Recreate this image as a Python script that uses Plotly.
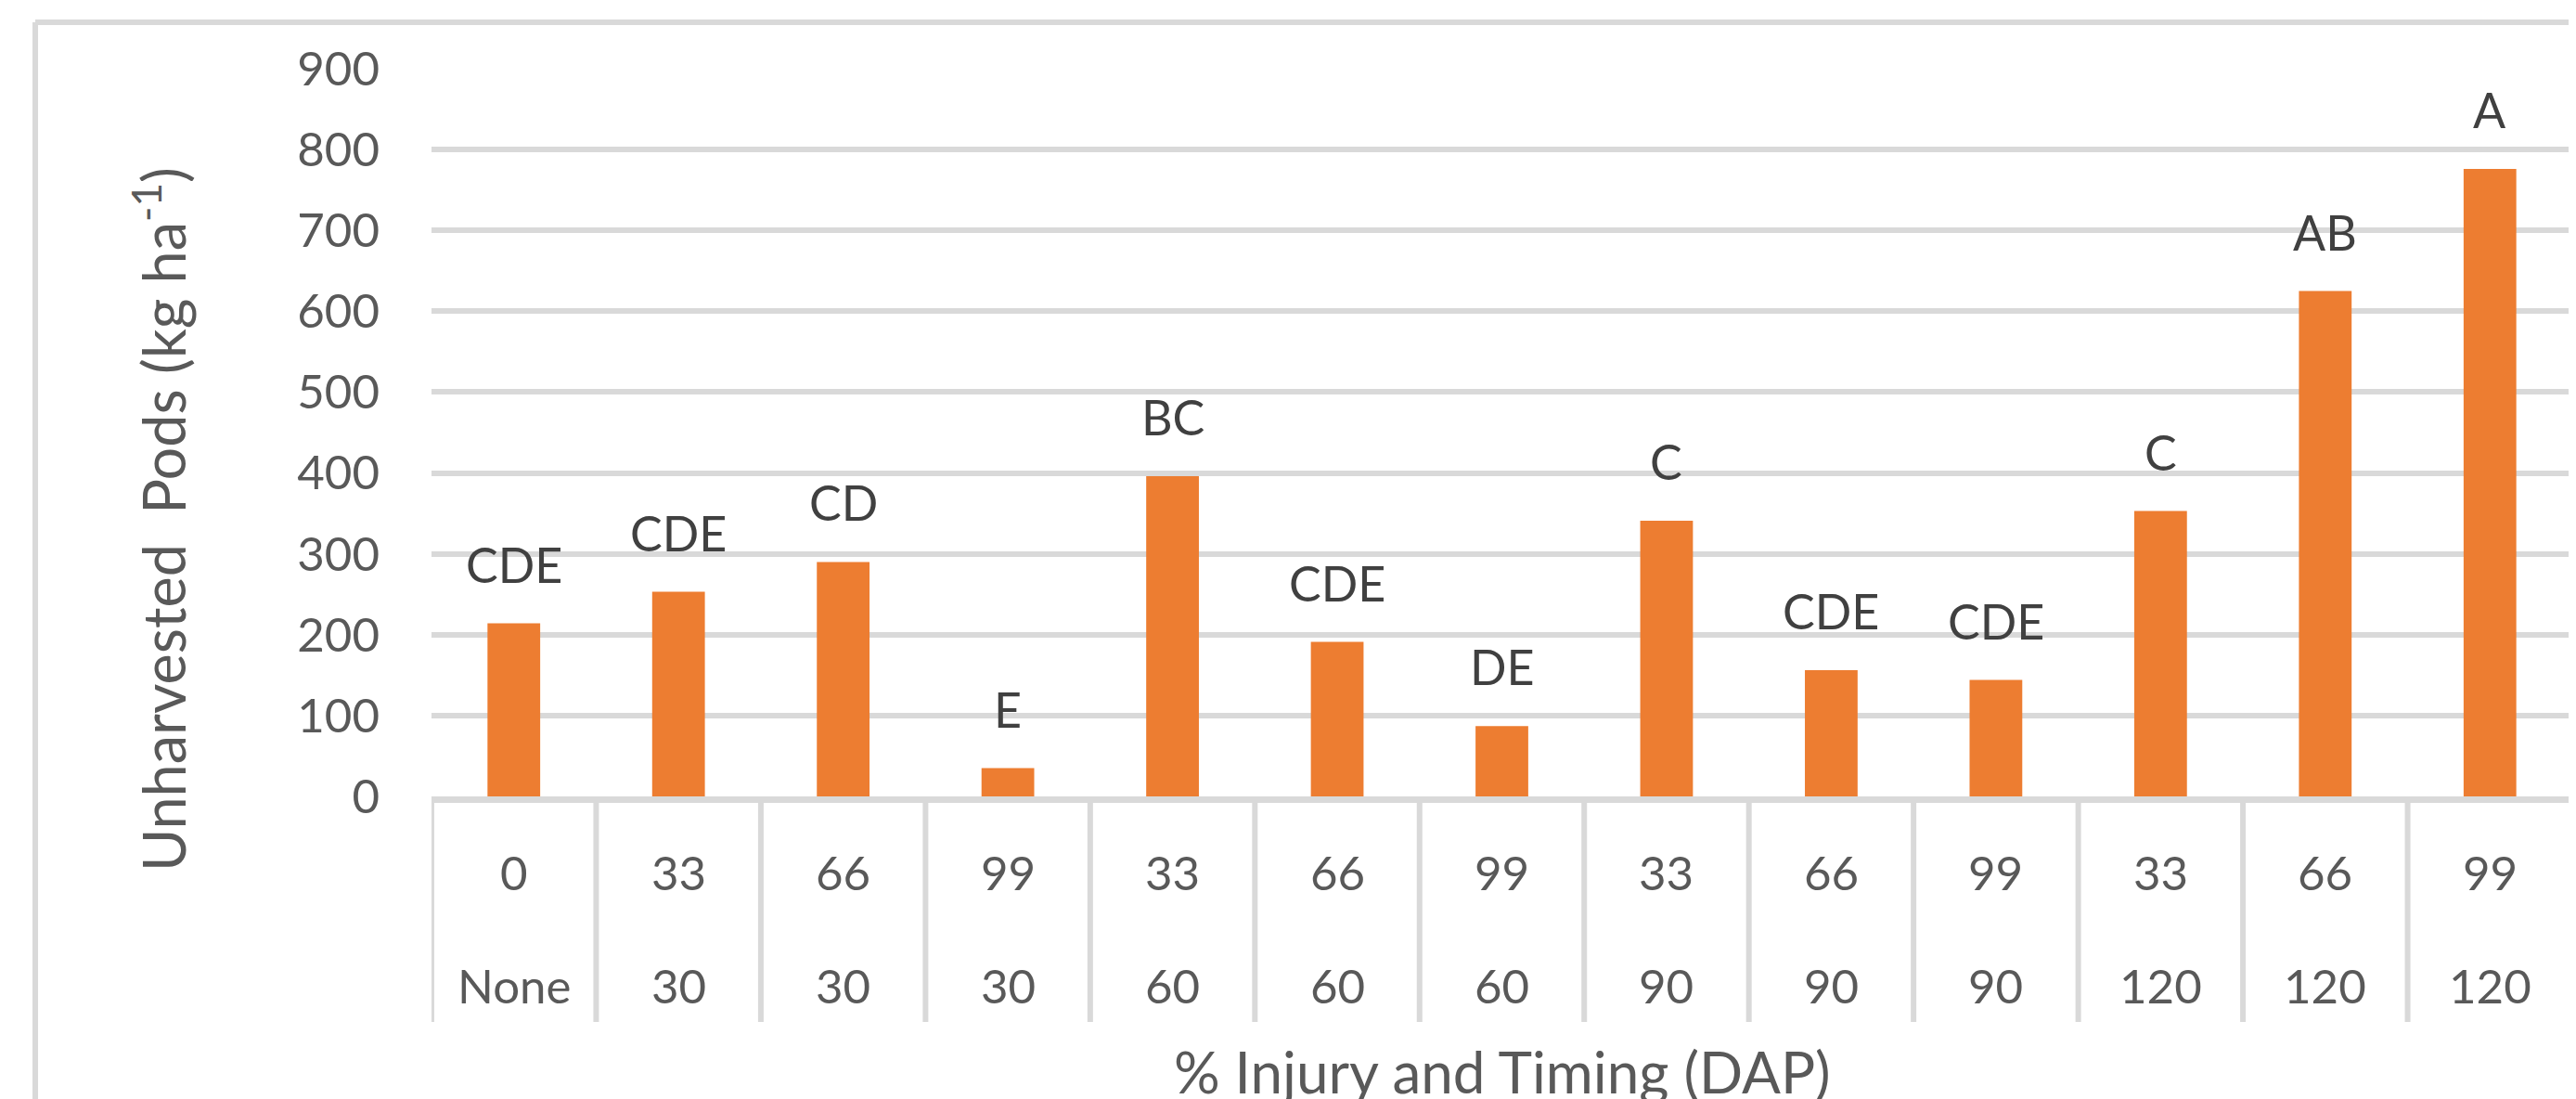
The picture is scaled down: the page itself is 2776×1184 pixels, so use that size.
import plotly.graph_objects as go

# ---- data ----
injury = ["0", "33", "66", "99", "33", "66", "99", "33", "66", "99", "33", "66", "99"]
timing = ["None", "30", "30", "30", "60", "60", "60", "90", "90", "90", "120", "120", "120"]
pods = [214, 253, 290, 35, 396, 191, 87, 341, 156, 144, 353, 625, 776]
letters = ["CDE", "CDE", "CD", "E", "BC", "CDE", "DE", "C", "CDE", "CDE", "C", "AB", "A"]
y_ticks = [0, 100, 200, 300, 400, 500, 600, 700, 800, 900]

cats = [f"{i}|{t}" for i, t in zip(injury, timing)]

FONT = "Lato"
GRID = "#d9d9d9"
TXT = "#595959"
LBL = "#404040"

OFF = 8  # page body margin
W, H = 2776 - OFF, 1184 - OFF
L, T = 465 - OFF, 74 - OFF
R = W - (2772 - OFF)
B = H - (858 - OFF)
PW, PH = W - L - R, H - T - B


def py(p):  # page pixel y -> paper y
    return (H - B - (p - OFF)) / PH


def px_(p):  # page pixel x -> paper x
    return ((p - OFF) - L) / PW


fig = go.Figure()
fig.add_trace(go.Bar(
    x=cats, y=pods, width=0.32,
    marker=dict(color="#ed7d31", line=dict(width=0)),
    hoverinfo="skip",
))

annotations = []
# significance letters above bars
for c, v, s in zip(cats, pods, letters):
    annotations.append(dict(x=c, y=v, xref="x", yref="y", text=s, showarrow=False,
                            yanchor="middle", yshift=64,
                            font=dict(family=FONT, size=52, color=LBL)))
# two rows of category labels
for c, a, b in zip(cats, injury, timing):
    annotations.append(dict(x=c, y=py(939), xref="x", yref="paper", text=a, showarrow=False,
                            yanchor="middle", font=dict(family=FONT, size=51, color=TXT)))
    annotations.append(dict(x=c, y=py(1061), xref="x", yref="paper", text=b, showarrow=False,
                            yanchor="middle", font=dict(family=FONT, size=51, color=TXT)))
# axis titles
annotations.append(dict(x=0.5, y=py(1154), xref="paper", yref="paper",
                        text="% Injury and Timing (DAP)", showarrow=False, yanchor="middle",
                        font=dict(family=FONT, size=62, color=TXT)))
annotations.append(dict(x=px_(171), y=py(560), xref="paper", yref="paper",
                        text="Unharvested\u00a0 Pods (kg ha<sup>-1</sup>)", showarrow=False,
                        textangle=-90, xanchor="center", yanchor="middle",
                        font=dict(family=FONT, size=63, color=TXT)))

shapes = []
# category separators below axis
for k in range(len(cats) + 1):
    shapes.append(dict(type="line", xref="x", yref="paper", x0=k - 0.5, x1=k - 0.5,
                       y0=0, y1=py(1101), line=dict(color=GRID, width=6), layer="below"))
# outer chart border (top and left visible)
shapes.append(dict(type="line", xref="paper", yref="paper", x0=px_(38), x1=px_(2800),
                   y0=py(24), y1=py(24), line=dict(color=GRID, width=6)))
shapes.append(dict(type="line", xref="paper", yref="paper", x0=px_(38), x1=px_(38),
                   y0=py(24), y1=py(1220), line=dict(color=GRID, width=6)))

fig.update_layout(
    width=W, height=H,
    margin=dict(l=L, r=R, t=T, b=B, pad=0),
    paper_bgcolor="white", plot_bgcolor="white",
    showlegend=False,
    annotations=annotations, shapes=shapes,
    xaxis=dict(type="category", showticklabels=False, showgrid=False, ticks="",
               showline=True, linecolor=GRID, linewidth=7, zeroline=False,
               range=[-0.5, len(cats) - 0.5]),
    yaxis=dict(range=[0, 900], tickvals=y_ticks, ticktext=[str(v) for v in y_ticks],
               showgrid=True, gridcolor=GRID, gridwidth=6, zeroline=False,
               showline=False, ticks="", ticklabelstandoff=55,
               tickfont=dict(family=FONT, size=51, color=TXT)),
)

fig.write_html("out.html")
